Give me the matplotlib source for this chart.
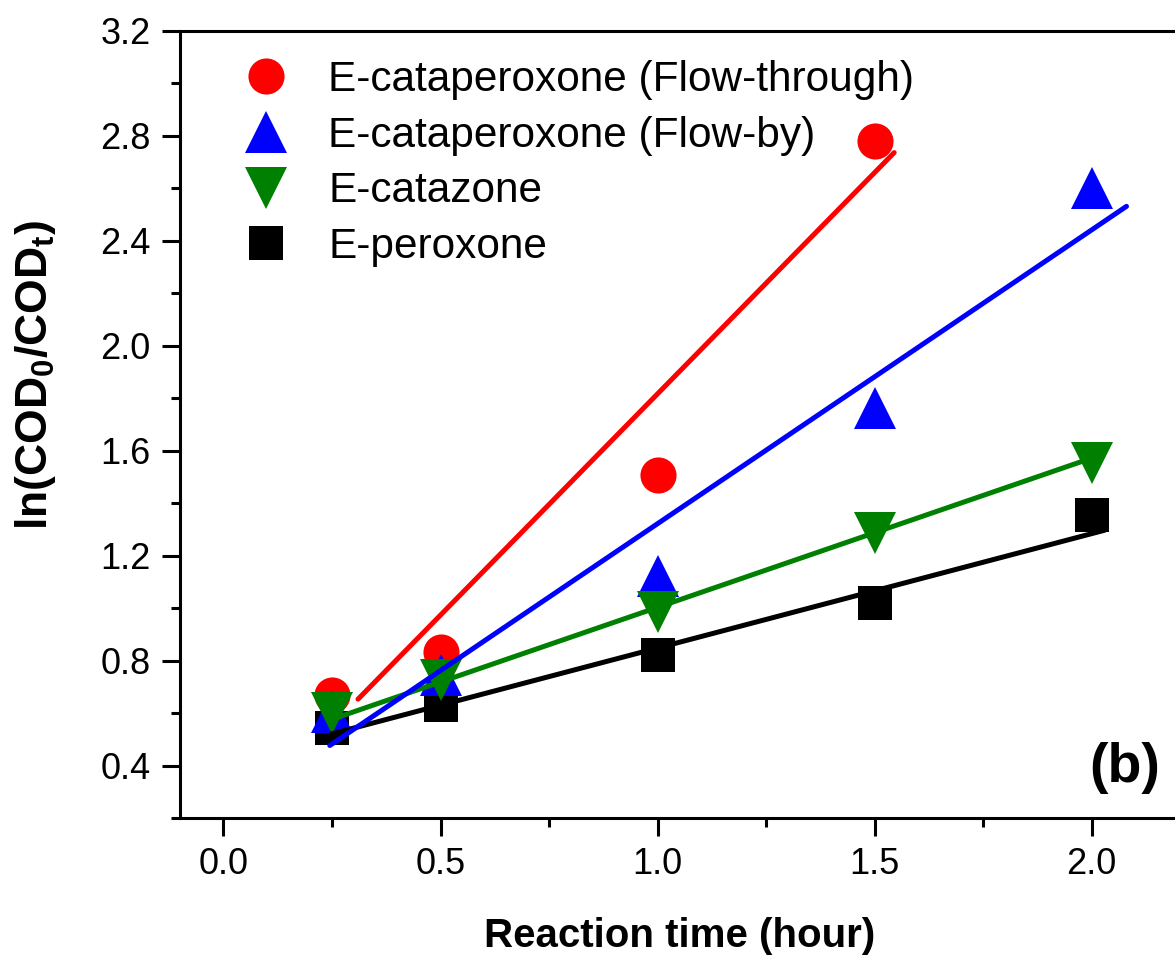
import numpy as np
import matplotlib
matplotlib.use('Agg')
from matplotlib import pyplot as plt
from matplotlib.ticker import MultipleLocator, FormatStrFormatter

plt.rcParams['font.family'] = ['Liberation Sans', 'DejaVu Sans']
plt.rcParams['mathtext.fontset'] = 'custom'
plt.rcParams['mathtext.rm'] = 'Liberation Sans'
plt.rcParams['mathtext.bf'] = 'Liberation Sans:bold'

# data
time = [0.25, 0.5, 1.0, 1.5, 2.0]
flow_through = [0.669, 0.832, 1.507, 2.779]
flow_by = [0.604, 0.745, 1.124, 1.762, 2.60]
catazone = [0.600, 0.726, 0.985, 1.286, 1.554]
peroxone = [0.543, 0.630, 0.821, 1.021, 1.356]

labels = ['E-cataperoxone (Flow-through)', 'E-cataperoxone (Flow-by)',
          'E-catazone', 'E-peroxone']

# linear fits (slope, intercept) and the time span each fit is drawn over
fit_slope = [1.687, 1.120, 0.569, 0.436]
fit_intercept = [0.130, 0.202, 0.434, 0.412]
fit_start = [0.31, 0.245, 0.25, 0.25]
fit_end = [1.545, 2.08, 2.0, 2.03]

colors = ['#ff0000', '#0000ff', '#008000', '#000000']
markers = ['o', '^', 'v', 's']
msizes = [26, 30, 30, 24]
series = [flow_through, flow_by, catazone, peroxone]
marker_z = [2.1, 2.2, 2.3, 2.0]
line_z = [3.2, 3.3, 3.1, 3.0]

fig = plt.figure(figsize=(11.75, 9.56), dpi=100)
ax = fig.add_axes([180 / 1175, 138 / 956, (1222 - 180) / 1175, 787 / 956])

handles = []
for i in range(4):
    y = series[i]
    h, = ax.plot(time[:len(y)], y, linestyle='none', marker=markers[i],
                 markersize=msizes[i], color=colors[i], markeredgewidth=0,
                 zorder=marker_z[i], label=labels[i])
    handles.append(h)
    xs = np.array([fit_start[i], fit_end[i]])
    ax.plot(xs, fit_slope[i] * xs + fit_intercept[i], color=colors[i],
            lw=3.6, solid_capstyle='round', zorder=line_z[i])

ax.set_xlim(-0.1, 2.3)
ax.set_ylim(0.2, 3.2)
ax.xaxis.set_major_locator(MultipleLocator(0.5))
ax.xaxis.set_minor_locator(MultipleLocator(0.25))
ax.yaxis.set_major_locator(MultipleLocator(0.4))
ax.yaxis.set_minor_locator(MultipleLocator(0.2))
ax.xaxis.set_major_formatter(FormatStrFormatter('%.1f'))
ax.yaxis.set_major_formatter(FormatStrFormatter('%.1f'))

for s in ax.spines.values():
    s.set_linewidth(2.2)
ax.spines['right'].set_visible(False)
ax.tick_params(which='both', direction='out', width=2.2, top=False, right=False)
ax.tick_params(which='major', length=13, pad=8, labelsize=26)
ax.tick_params(which='minor', length=6.5)

fig.text(680 / 1175, 1 - 947 / 956, 'Reaction time (hour)', fontsize=29,
         fontweight='bold', ha='center', va='baseline')
fig.text(36 / 1175, 1 - 375 / 956,
         r'ln(COD$_\mathbf{0}$/COD$_\mathbf{t}$)', fontsize=32,
         fontweight='bold', rotation=90, ha='center', va='center')
fig.text(1160 / 1175, 1 - 782 / 956, '(b)', fontsize=40, fontweight='bold',
         ha='right', va='baseline')

ax.legend(handles=handles, loc='upper left',
          bbox_to_anchor=(236 / 1175, 1 - 60 / 956),
          bbox_transform=fig.transFigure, frameon=False, fontsize=30.5,
          numpoints=1, handlelength=1.4, handletextpad=0.78,
          labelspacing=0.37, borderpad=0, borderaxespad=0)

fig.savefig('out.png', dpi=100)
